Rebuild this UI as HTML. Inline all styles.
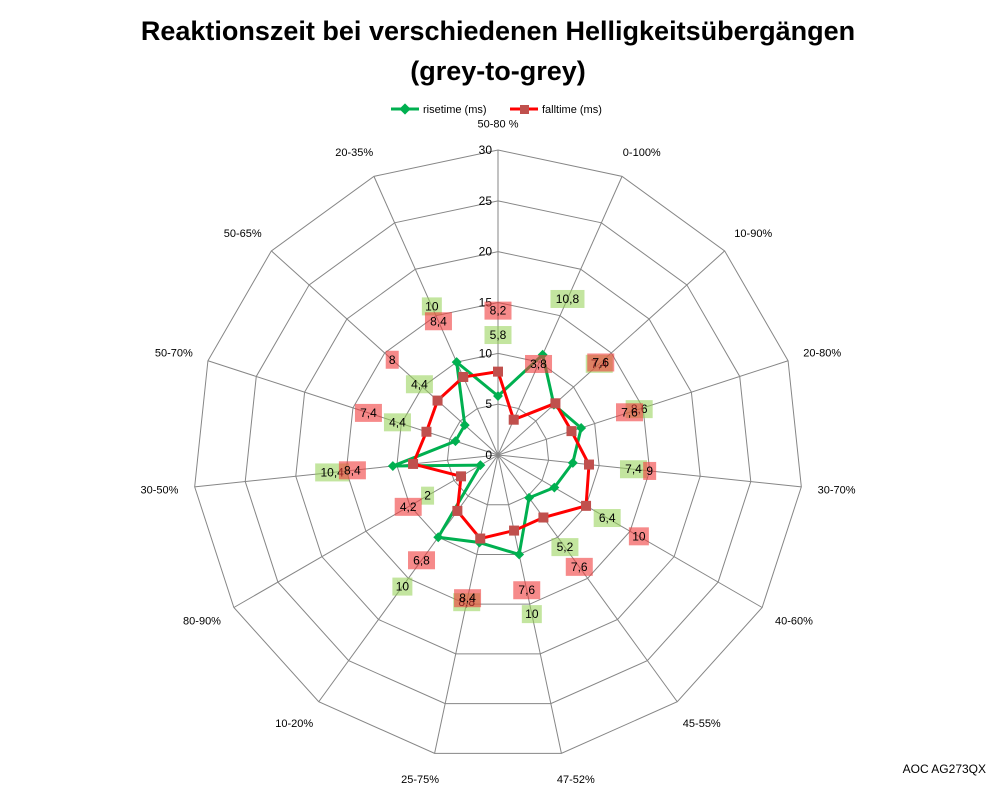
<!DOCTYPE html>
<html><head><meta charset="utf-8"><style>
body{margin:0;background:#fff;}
svg text{font-family:"Liberation Sans",Calibri,sans-serif;}
</style></head><body>
<svg id="chart" width="998" height="786" xmlns="http://www.w3.org/2000/svg">
<text x="498" y="40" text-anchor="middle" font-size="27" font-weight="bold">Reaktionszeit bei verschiedenen Helligkeitsübergängen</text>
<text x="498" y="80" text-anchor="middle" font-size="27" font-weight="bold">(grey-to-grey)</text>
<g>
<g>
<line x1="391" y1="109" x2="419" y2="109" stroke="#00b050" stroke-width="3"/>
<rect x="401" y="105" width="8" height="8" fill="#00b050" transform="rotate(45 405 109)"/>
<text x="423" y="113" font-size="11">risetime (ms)</text></g>
<g>
<line x1="510" y1="109" x2="538" y2="109" stroke="#ff0000" stroke-width="3"/>
<rect x="520" y="105" width="9" height="9" fill="#c0504d"/>
<text x="542" y="113" font-size="11">falltime (ms)</text></g>
</g>
<g id="grid"></g>
<g id="labels"></g>
<g id="series"></g>
<text x="986" y="773" text-anchor="end" font-size="12">AOC AG273QX</text>
</svg>
<script>
const categories=["50-80 %","0-100%","10-90%","20-80%","30-70%","40-60%","45-55%","47-52%","25-75%","10-20%","80-90%","30-50%","50-70%","50-65%","20-35%"];
const riseLabels=["5,8","10,8","7,4","8,6","7,4","6,4","5,2","10","8,8","10","2","10,4","4,4","4,4","10"];
const riseValues=[5.8,10.8,7.4,8.6,7.4,6.4,5.2,10,8.8,10,2,10.4,4.4,4.4,10];
const fallLabels=["8,2","3,8","7,6","7,6","9","10","7,6","7,6","8,4","6,8","4,2","8,4","7,4","8","8,4"];
const fallValues=[8.2,3.8,7.6,7.6,9,10,7.6,7.6,8.4,6.8,4.2,8.4,7.4,8,8.4];
const ticks=[0,5,10,15,20,25,30];
const cx=498,cy=455,R=305,maxV=30,NS="http://www.w3.org/2000/svg";
const n=categories.length;
function ang(i){return -Math.PI/2+i*2*Math.PI/n;}
function pt(i,v){const r=v/maxV*R;return [cx+r*Math.cos(ang(i)),cy+r*Math.sin(ang(i))];}
function mk(tag,attrs,parent){const e=document.createElementNS(NS,tag);for(const k in attrs)e.setAttribute(k,attrs[k]);parent.appendChild(e);return e;}
const grid=document.getElementById('grid');
ticks.forEach(t=>{if(t===0)return;const p=categories.map((c,i)=>pt(i,t).join(',')).join(' ');
const g=mk('polygon',{points:p,fill:'none',stroke:'#868686','stroke-width':1},grid);

});
categories.forEach((c,i)=>{const e=pt(i,maxV);const l=mk('line',{x1:cx,y1:cy,x2:e[0],y2:e[1],stroke:'#868686','stroke-width':1},grid);

});
ticks.forEach(t=>{const y=cy-t/maxV*R;const tx=mk('text',{x:cx-6,y:y+4,'text-anchor':'end','font-size':12},grid);tx.textContent=t;

});
const labs=document.getElementById('labels');
categories.forEach((c,i)=>{const p=pt(i,maxV+2.6);const a=Math.cos(ang(i));
const anchor=Math.abs(a)<0.2?'middle':(a>0?'start':'end');
const tx=mk('text',{x:p[0]+(anchor==='middle'?0:(a>0?-10:10)),y:p[1]+4,'text-anchor':anchor,'font-size':11},labs);tx.textContent=c;

});
const ser=document.getElementById('series');
function drawSeries(vals,labelsArr,color,markerColor,bg,shape,name){
const g=mk('g',{},ser);


const pts=vals.map((v,i)=>pt(i,v));
mk('polygon',{points:pts.map(p=>p.join(',')).join(' '),fill:'none',stroke:color,'stroke-width':3},g);
pts.forEach((p,i)=>{let m;
if(shape==='diamond')m=mk('rect',{x:p[0]-3.5,y:p[1]-3.5,width:7,height:7,fill:markerColor,transform:`rotate(45 ${p[0]} ${p[1]})`},g);
else m=mk('rect',{x:p[0]-5,y:p[1]-5,width:10,height:10,fill:markerColor},g);


const lp=pt(i,vals[i]+6);const w=labelsArr[i].length*7+6;
const lg=mk('g',{},g);


mk('rect',{x:lp[0]-w/2,y:lp[1]-9,width:w,height:18,fill:bg},lg);
const t=mk('text',{x:lp[0],y:lp[1]+4,'text-anchor':'middle','font-size':12},lg);t.textContent=labelsArr[i];});
}
drawSeries(riseValues,riseLabels,'#00b050','#00b050','rgba(146,208,80,0.55)','diamond','risetime');
drawSeries(fallValues,fallLabels,'#ff0000','#c0504d','rgba(240,60,60,0.6)','square','falltime');
</script>
</body></html>
